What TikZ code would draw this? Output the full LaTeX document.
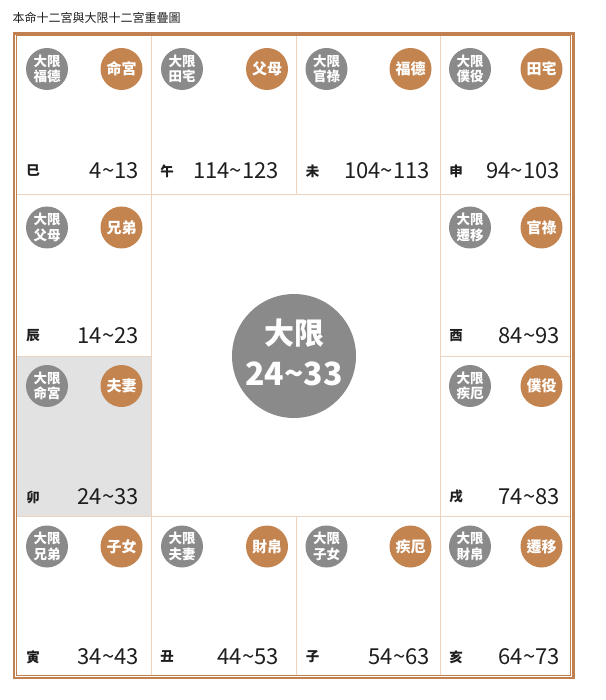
\documentclass[tikz,border=0pt]{standalone}
\usepackage{fontspec}
\newfontfamily\cjk{Noto Sans CJK TC}
\definecolor{palorange}{RGB}{196,132,80}
\definecolor{palgray}{RGB}{138,138,138}
\definecolor{gridtan}{RGB}{236,212,192}
\definecolor{bordbrown}{RGB}{192,128,80}
\definecolor{hilite}{RGB}{226,226,226}
\definecolor{textdark}{RGB}{30,30,30}
\newcommand\tld{\textasciitilde}
\newcommand\palace[7]{%
  \ifcase#2\or \def\gx{47}\def\ox{121.5}\def\sx{33}\def\nx{139}%
  \or \def\gx{182}\def\ox{267}\def\sx{167}\def\nx{279}%
  \or \def\gx{326.5}\def\ox{410.5}\def\sx{312.5}\def\nx{430}%
  \or \def\gx{470}\def\ox{541.5}\def\sx{456}\def\nx{560}\fi
  \ifcase#3\or \def\cy{69}\def\ly{171}%
  \or \def\cy{227.5}\def\ly{336}%
  \or \def\cy{386}\def\ly{497}%
  \or \def\cy{546.5}\def\ly{657}\fi
  \node[gcirc] (#1-g) at (\gx,\cy) {#4};
  \node[ocirc] (#1-o) at (\ox,\cy) {#5};
  \node[stemlbl] (#1-s) at (\sx,\ly) {#6};
  \node[numlbl] (#1-n) at (\nx,\ly) {#7};
}
\begin{document}
\begin{tikzpicture}[x=1pt,y=-1pt,
  gcirc/.style={circle, fill=palgray, minimum size=42pt, inner sep=0pt, text=white,
    align=center, font=\cjk\bfseries\fontsize{13.5}{15.5}\selectfont},
  ocirc/.style={circle, fill=palorange, minimum size=42pt, inner sep=0pt, text=white,
    font=\cjk\bfseries\fontsize{15}{15}\selectfont},
  stemlbl/.style={inner sep=0pt, text=textdark, font=\cjk\bfseries\fontsize{13.5}{13.5}\selectfont},
  numlbl/.style={anchor=east, inner sep=0pt, text=textdark, font=\cjk\fontsize{22}{22}\selectfont},
  gridline/.style={draw=gridtan, line width=0.9pt},
]
\useasboundingbox (0,0) rectangle (605,700);
\fill[white] (0,0) rectangle (605,700);
\node[anchor=west, inner sep=0pt, text=textdark, font=\cjk\fontsize{12}{12}\selectfont] (title) at (12.5,18) {本命十二宮與大限十二宮重疊圖};
% highlighted cell
\fill[hilite] (16.5,356) rectangle (151,516.5);
% grid
\draw[gridline] (151,35.8) -- (151,675);
\draw[gridline] (440,35.8) -- (440,675);
\draw[gridline] (296.5,35.8) -- (296.5,194.3);
\draw[gridline] (296.5,516.5) -- (296.5,675);
\draw[gridline] (16.5,194.3) -- (570.7,194.3);
\draw[gridline] (16.5,516.5) -- (570.7,516.5);
\draw[gridline] (16.5,356) -- (151,356);
\draw[gridline] (440,356) -- (570.7,356);
% borders
\draw[draw=bordbrown, line width=1pt] (16.5,35.8) rectangle (570.7,675);
\draw[draw=bordbrown, line width=2.6pt] (14,33.3) rectangle (573.2,678);
% palaces
\palace{si}{1}{1}{大限\\福德}{命宮}{巳}{4\tld13}
\palace{wu}{2}{1}{大限\\田宅}{父母}{午}{114\tld123}
\palace{wei}{3}{1}{大限\\官祿}{福德}{未}{104\tld113}
\palace{shen}{4}{1}{大限\\僕役}{田宅}{申}{94\tld103}
\palace{chen}{1}{2}{大限\\父母}{兄弟}{辰}{14\tld23}
\palace{you}{4}{2}{大限\\遷移}{官祿}{酉}{84\tld93}
\palace{mao}{1}{3}{大限\\命宮}{夫妻}{卯}{24\tld33}
\palace{xu}{4}{3}{大限\\疾厄}{僕役}{戌}{74\tld83}
\palace{yin}{1}{4}{大限\\兄弟}{子女}{寅}{34\tld43}
\palace{chou}{2}{4}{大限\\夫妻}{財帛}{丑}{44\tld53}
\palace{zi}{3}{4}{大限\\子女}{疾厄}{子}{54\tld63}
\palace{hai}{4}{4}{大限\\財帛}{遷移}{亥}{64\tld73}
% center
\node[circle, fill=palgray, minimum size=124pt, inner sep=0pt] (dxc) at (294,356) {};
\node[inner sep=0pt, text=white, font=\cjk\bfseries\fontsize{30}{30}\selectfont] (dxt) at (294,333) {大限};
\node[inner sep=0pt, text=white, font=\cjk\bfseries\fontsize{32}{32}\selectfont] (dxn) at (294,374) {24\tld33};
\end{tikzpicture}
\end{document}
